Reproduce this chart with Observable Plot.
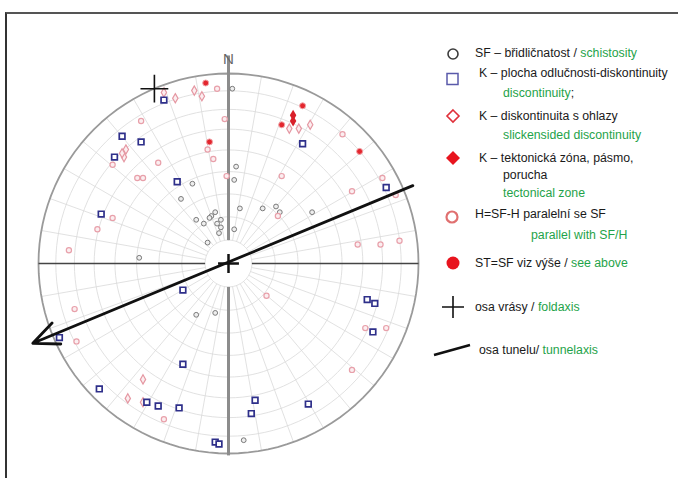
<!DOCTYPE html>
<html><head><meta charset="utf-8">
<script src="https://cdn.jsdelivr.net/npm/d3@7"></script>
<script src="https://cdn.jsdelivr.net/npm/@observablehq/plot@0.6"></script>
<style>
body{margin:0;background:#fff;}
#wrap{position:relative;width:678px;height:504px;overflow:hidden;font-family:"Liberation Sans",Arial,sans-serif;background:#fff;}
#frame{position:absolute;left:5px;top:12px;width:720px;height:464px;border-left:2px solid #333;border-top:2px solid #555;z-index:5;}
#chart{position:absolute;left:0;top:0;}
.lg{position:absolute;font-size:12.3px;color:#1a1a1a;white-space:nowrap;line-height:14px;z-index:6;}
.g{color:#1fa34a;}
#sym{position:absolute;left:0;top:0;z-index:6;}
</style></head><body>
<div id="wrap">
<div id="chart"></div>
<div id="frame"></div>
<div class="lg" style="left:475px;top:46px">SF – břidličnatost / <span class="g">schistosity</span></div>
<div class="lg" style="left:479px;top:66px">K – plocha odlučnosti-diskontinuity</div>
<div class="lg" style="left:503px;top:86px"><span class="g">discontinuity</span>;</div>
<div class="lg" style="left:479px;top:109px">K – diskontinuita s ohlazy</div>
<div class="lg" style="left:503px;top:128px"><span class="g">slickensided discontinuity</span></div>
<div class="lg" style="left:479px;top:151px">K – tektonická zóna, pásmo,</div>
<div class="lg" style="left:503px;top:168px">porucha</div>
<div class="lg" style="left:503px;top:186px"><span class="g">tectonical zone</span></div>
<div class="lg" style="left:475px;top:207px">H=SF-H paralelní se SF</div>
<div class="lg" style="left:531px;top:228px"><span class="g">parallel with SF/H</span></div>
<div class="lg" style="left:475px;top:256px">ST=SF viz výše / <span class="g">see above</span></div>
<div class="lg" style="left:475px;top:300px">osa vrásy / <span class="g">foldaxis</span></div>
<div class="lg" style="left:479px;top:343px">osa tunelu/ <span class="g">tunnelaxis</span></div>
<svg id="sym" width="678" height="504">
  <circle cx="453" cy="54" r="5" fill="none" stroke="#3c3c3c" stroke-width="1.6"/>
  <rect x="447" y="73.5" width="11" height="11" fill="none" stroke="#5a5aaa" stroke-width="1.5"/>
  <path d="M453,110 L459,116 L453,122 L447,116 Z" fill="none" stroke="#e0303a" stroke-width="1.6"/>
  <path d="M453,151 L460,158 L453,165 L446,158 Z" fill="#e8141e"/>
  <circle cx="452" cy="217" r="5.5" fill="none" stroke="#e07070" stroke-width="2.2"/>
  <circle cx="453" cy="263" r="6.5" fill="#e8141e"/>
  <path d="M442,307 L464,307 M453,296 L453,318" stroke="#111" stroke-width="1.6"/>
  <path d="M434,355 L470,345" stroke="#111" stroke-width="2.5"/>
</svg>
</div>
<script>
// Net coordinates (x = east, y = north, 1 = primitive circle)
const sfPoints = [[0.02,0.92],[-0.19,0.42],[-0.25,0.34],[-0.07,0.27],[-0.09,0.25],[-0.04,0.23],[-0.10,0.24],[-0.13,0.21],[-0.17,0.23],[-0.06,0.21],[-0.04,0.19],[-0.05,0.16],[-0.11,0.11],[-0.47,0.03],[0.04,0.51],[0.03,0.44],[0.06,0.29],[0.18,0.29],[0.25,0.30],[0.27,0.27],[0.44,0.27],[0.03,0.18],[-0.17,-0.27],[-0.07,-0.26],[0.08,-0.93]];
const kPoints = [[-0.34,0.86],[-0.56,0.67],[-0.46,0.64],[-0.60,0.56],[-0.27,0.43],[-0.67,0.26],[0.39,0.63],[0.83,0.40],[-0.24,-0.14],[-0.89,-0.39],[-0.24,-0.53],[-0.68,-0.66],[-0.43,-0.73],[-0.37,-0.75],[-0.26,-0.76],[-0.07,-0.94],[-0.05,-0.95],[0.73,-0.19],[0.77,-0.21],[0.76,-0.36],[0.14,-0.72],[0.12,-0.79],[0.42,-0.74]];
const slickPoints = [[-0.34,0.90],[-0.28,0.87],[-0.18,0.91],[-0.14,0.88],[-0.54,0.60],[-0.55,0.56],[-0.56,0.58],[0.32,0.71],[0.37,0.71],[0.43,0.73],[-0.45,-0.61],[-0.53,-0.71],[-0.45,-0.73]];
const tectPoints = [[0.34,0.78],[0.34,0.75]];
const hPoints = [[-0.06,0.92],[-0.02,0.76],[-0.46,0.75],[-0.11,0.60],[-0.08,0.55],[-0.61,0.52],[-0.37,0.53],[-0.48,0.45],[-0.45,0.45],[-0.61,0.24],[-0.69,0.18],[-0.84,0.07],[-0.01,0.46],[0.60,0.68],[0.28,0.46],[0.81,0.45],[0.65,0.38],[0.88,0.36],[0.26,0.25],[0.68,0.10],[0.80,0.10],[0.90,0.12],[-0.81,-0.24],[-0.80,-0.41],[-0.34,-0.82],[0.20,-0.17],[0.72,-0.34],[0.83,-0.34],[0.65,-0.56]];
const stPoints = [[-0.12,0.95],[-0.10,0.64],[0.39,0.83],[0.28,0.73],[0.69,0.59]];
const foldAxis = [[-0.39,0.92]];
const tunnelAxis = [{x1:0.97, y1:0.41, x2:-1.03, y2:-0.42}];
const dipRings = [10,20,30,40,50,60,70,80,90];
const gridAzimuths = d3.range(0,360,10);
const northLabel = ["N"];

// Equal-area (Schmidt) grid geometry
const rad = d => d*Math.PI/180;
const ringR = t => Math.SQRT2*Math.sin(rad(t)/2);
const rings = dipRings.flatMap(t => d3.range(0,361,3).map(a => ({t, x: ringR(t)*Math.sin(rad(a)), y: ringR(t)*Math.cos(rad(a))})));
const r0 = ringR(dipRings[0]);
const spokes = gridAzimuths.map(a => ({x1:r0*Math.sin(rad(a)), y1:r0*Math.cos(rad(a)), x2:Math.sin(rad(a)), y2:Math.cos(rad(a))}));
const toObj = arr => arr.map(([x,y]) => ({x,y}));
const axesLines = [
  {x1:-1.0, y1:0, x2:-r0, y2:0},
  {x1:r0, y1:0, x2:1.0, y2:0}
];
const nsLines = [
  {x1:0, y1:r0, x2:0, y2:1.095},
  {x1:0, y1:-r0, x2:0, y2:-1.01}
];
const crossC = [{x1:-0.055,y1:0,x2:0.055,y2:0},{x1:0,y1:-0.05,x2:0,y2:0.05}];

const W = 440, H = 504, cx = 228, cy = 263, R = 190;
const chart = Plot.plot({
  width: W, height: H,
  margin: 0,
  style: {background: "transparent", overflow: "visible"},
  x: {domain: [-cx/R, (W-cx)/R], axis: null},
  y: {domain: [-(H-cy)/R, cy/R], axis: null},
  marks: [
    Plot.line(rings.filter(d => d.t < 90), {x:"x", y:"y", z:"t", stroke:"#d9d9d9", strokeWidth:0.8}),
    Plot.link(spokes, {x1:"x1", y1:"y1", x2:"x2", y2:"y2", stroke:"#d9d9d9", strokeWidth:0.8}),
    Plot.line(rings.filter(d => d.t === 90), {x:"x", y:"y", stroke:"#9a9a9a", strokeWidth:1.8}),
    Plot.link(axesLines, {x1:"x1", y1:"y1", x2:"x2", y2:"y2", stroke:"#444", strokeWidth:1.3}),
    Plot.link(nsLines, {x1:"x1", y1:"y1", x2:"x2", y2:"y2", stroke:"#8c8c8c", strokeWidth:3}),
    Plot.text(northLabel, {x:0, y:1.075, text:d=>d, fontSize:15, fill:"#666"}),
    Plot.dot(toObj(sfPoints), {x:"x", y:"y", r:2.4, stroke:"#7a7a7a", strokeWidth:1, fill:"#eee"}),
    Plot.dot(toObj(hPoints), {x:"x", y:"y", r:2.6, stroke:"#e8a0aa", strokeWidth:1.2, fill:"#fbeef0"}),
    Plot.dot(toObj(slickPoints), {x:"x", y:"y", r:2.8, symbol:"diamond", stroke:"#e597a2", strokeWidth:1.2, fill:"#fbeef0"}),
    Plot.dot(toObj(kPoints), {x:"x", y:"y", r:3.2, symbol:"square", stroke:"#2e2f8a", strokeWidth:1.7, fill:"white"}),
    Plot.dot(toObj(stPoints), {x:"x", y:"y", r:3.0, fill:"#e3262e", stroke:"#f2a3a8", strokeWidth:1}),
    Plot.dot(toObj(tectPoints), {x:"x", y:"y", r:3.4, symbol:"diamond", fill:"#d9202a"}),
    Plot.link(crossC, {x1:"x1", y1:"y1", x2:"x2", y2:"y2", stroke:"#111", strokeWidth:2.5}),
    Plot.arrow(tunnelAxis, {x1:"x1", y1:"y1", x2:"x2", y2:"y2", stroke:"#111", strokeWidth:2.8, headLength:15, headAngle:48}),
    Plot.dot(toObj(foldAxis), {x:"x", y:"y", symbol:"plus", r:9, stroke:"#111", strokeWidth:1.6})
  ]
});
document.getElementById("chart").appendChild(chart);
</script>
</body></html>
